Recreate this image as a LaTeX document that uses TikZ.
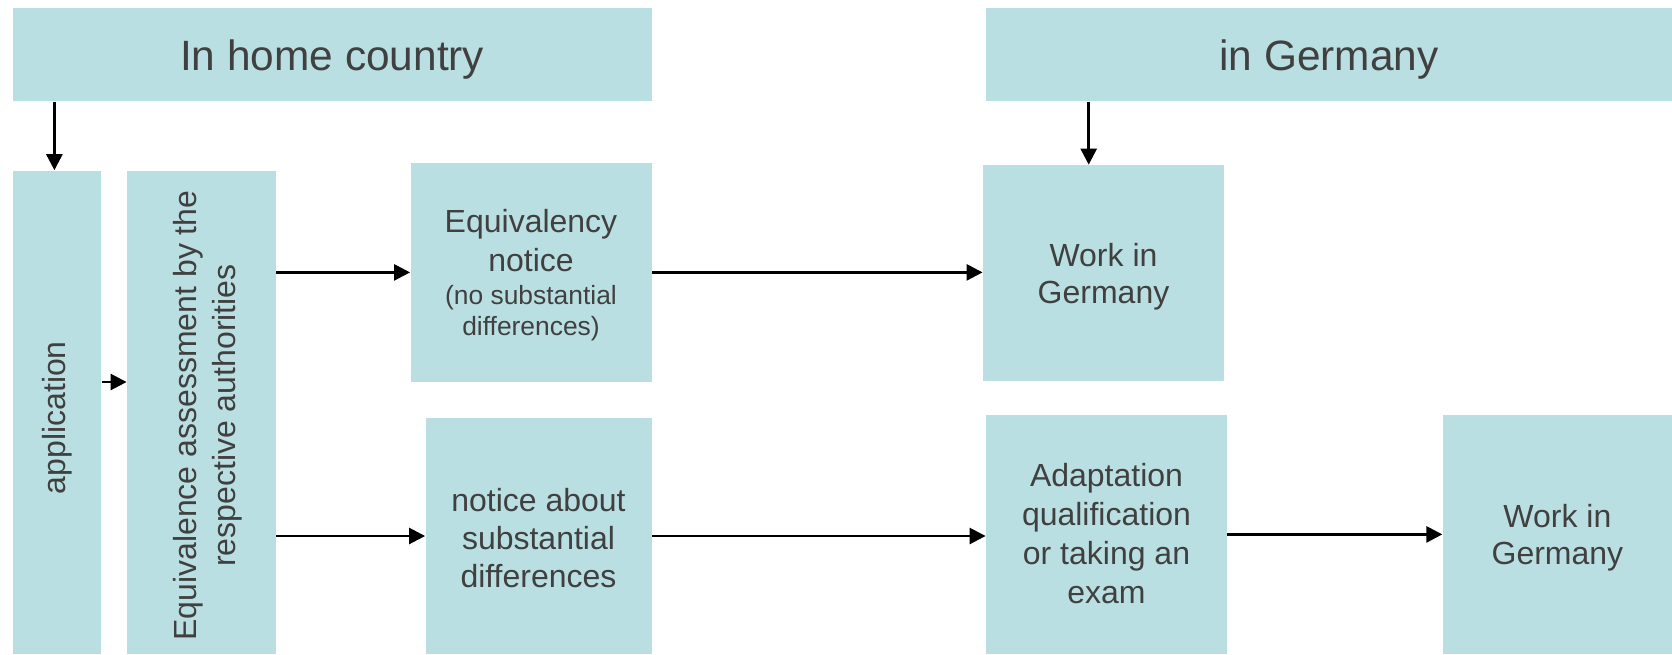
\documentclass[tikz,border=0pt]{standalone}
\usepackage{fontspec}
\setmainfont{Liberation Sans}
\usetikzlibrary{arrows.meta}
\definecolor{boxfill}{RGB}{186,223,226}
\definecolor{txt}{RGB}{64,64,64}
\newcommand{\smalltxt}{\fontsize{13.2}{15.4}\selectfont}
\begin{document}
\begin{tikzpicture}[x=0.5pt,y=-0.5pt,
  box/.style={fill=boxfill, draw=none, inner sep=0pt},
  lbl/.style={inner sep=0pt, text=txt, align=center, font=\fontsize{16}{19.2}\selectfont},
  wlbl/.style={lbl, font=\fontsize{16}{18.35}\selectfont},
  hdr/.style={lbl, font=\fontsize{21.2}{25}\selectfont},
  arr/.style={-{Triangle[length=8pt,width=8pt]}, line width=1.3pt, black}]
\useasboundingbox (0,0) rectangle (1672,654);
% boxes
\node[box, minimum width=319.35pt, minimum height=46.9pt] (home) at (332.2,54.4) {};
\node[box, minimum width=343pt, minimum height=46.9pt] (germ) at (1329,54.4) {};
\node[box, minimum width=44.25pt, minimum height=241.7pt] (app) at (57,412.3) {};
\node[box, minimum width=74.5pt, minimum height=241.7pt] (equiv) at (201.5,412.3) {};
\node[box, minimum width=120.5pt, minimum height=109.35pt] (not1) at (531,272.4) {};
\node[box, minimum width=113pt, minimum height=118pt] (not2) at (538.5,536) {};
\node[box, minimum width=120.5pt, minimum height=107.85pt] (work1) at (1103.5,272.9) {};
\node[box, minimum width=120.5pt, minimum height=119.6pt] (adapt) at (1106.5,534.4) {};
\node[box, minimum width=114.65pt, minimum height=119.6pt] (work2) at (1557.4,534.4) {};
% texts
\node[hdr, anchor=base] (home-t) at (home.center |- 0,70) {In home country};
\node[hdr, anchor=base] (germ-t) at (germ.center |- 0,70) {in Germany};
\node[lbl, rotate=90] (app-t) at ([yshift=-2.7pt]app.center) {application};
\node[lbl, rotate=90] (equiv-t) at ([xshift=3.35pt,yshift=-1.6pt]equiv.center)
  {\begin{tabular}{@{}c@{}}Equivalence assessment by the\\respective authorities\end{tabular}};
\node[lbl, font=\fontsize{16}{19.5}\selectfont] (not1-t) at ([yshift=-1.45pt]not1.center)
  {Equivalency\\notice\\[-2.9pt]\smalltxt (no substantial\\[-4.1pt]\smalltxt differences)};
\node[lbl] (not2-t) at ([yshift=-1pt]not2.center) {notice about\\substantial\\differences};
\node[wlbl] (work1-t) at ([yshift=-1.8pt]work1.center) {Work in\\Germany};
\node[lbl, font=\fontsize{16}{19.5}\selectfont] (adapt-t) at ([yshift=0.2pt]adapt.center)
  {Adaptation\\qualification\\or taking an\\exam};
\node[wlbl] (work2-t) at ([yshift=-1.8pt]work2.center) {Work in\\Germany};
% connectors
\draw[arr] ([xshift=-1.3pt]app.north |- home.south) -- ([xshift=-1.3pt]app.north);
\draw[arr] ([xshift=-7.4pt]work1.north |- germ.south) -- ([xshift=-7.4pt]work1.north);
\draw[arr] ([yshift=15.15pt]app.east) -- ([yshift=15.15pt]app.east -| equiv.west);
\draw[arr] (equiv.east |- not1.west) -- (not1.west);
\draw[arr] (equiv.east |- not2.west) -- (not2.west);
\draw[arr] (not1.east) -- (not1.east -| work1.west);
\draw[arr] (not2.east) -- (not2.east -| adapt.west);
\draw[arr] (adapt.east) -- (adapt.east -| work2.west);
\end{tikzpicture}
\end{document}
